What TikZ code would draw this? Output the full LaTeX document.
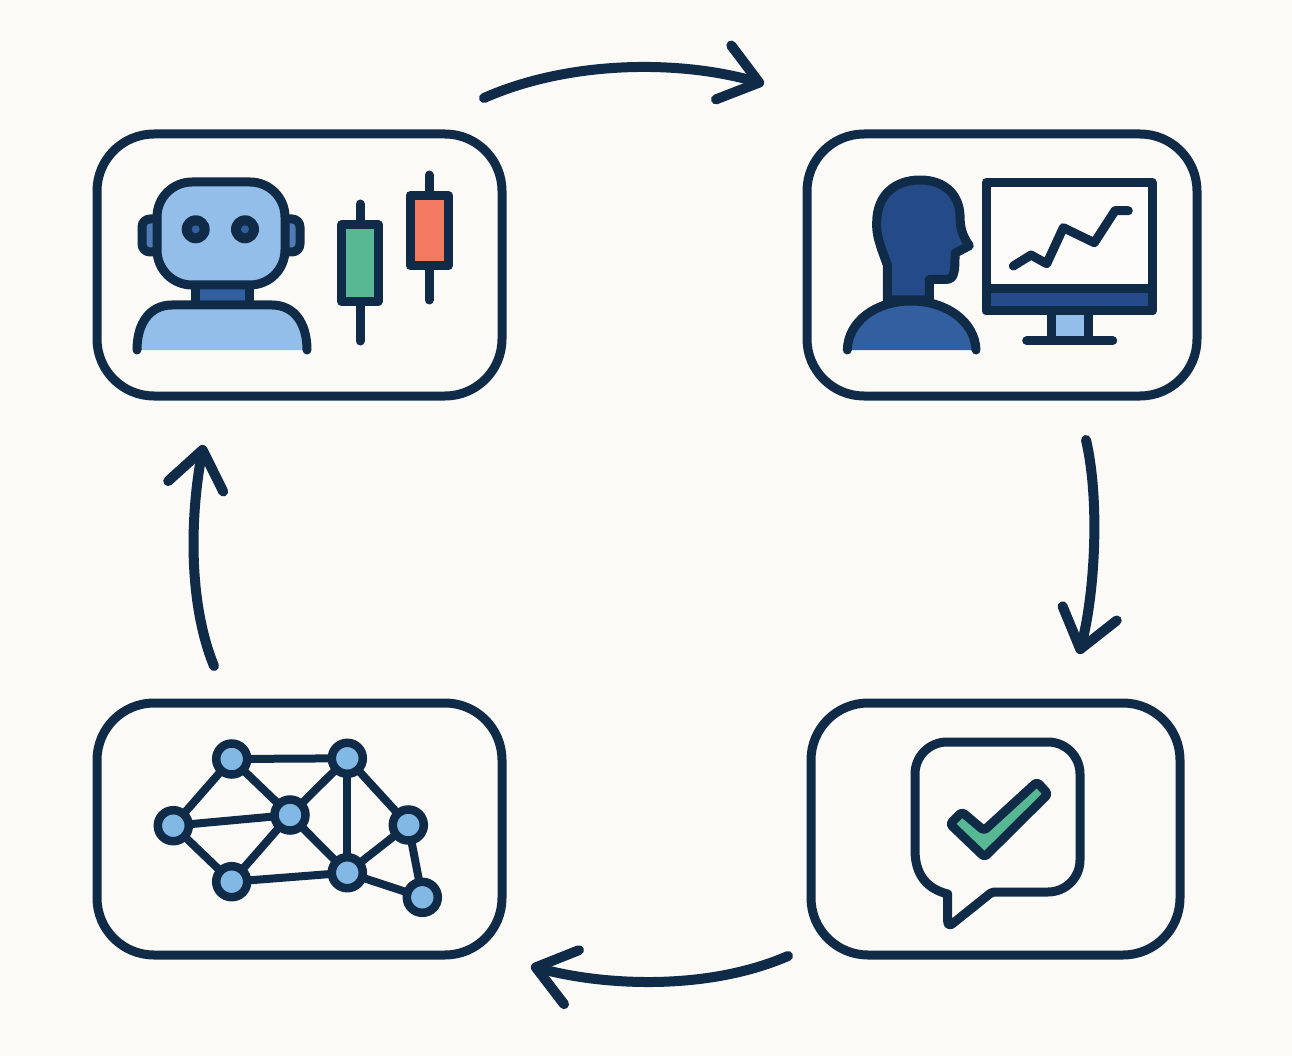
\documentclass[tikz,border=0pt]{standalone}
\usepackage{tikz}
\usetikzlibrary{positioning, calc, arrows.meta}
\definecolor{darknavy}{RGB}{15,43,72}
\definecolor{paperbg}{RGB}{252,250,247}
\definecolor{skyblue}{RGB}{147,190,234}
\definecolor{netblue}{RGB}{130,185,228}
\definecolor{midblue}{RGB}{50,95,160}
\definecolor{deepblue}{RGB}{36,75,135}
\definecolor{candlegreen}{RGB}{88,184,148}
\definecolor{candlered}{RGB}{242,122,96}

\begin{document}
\begin{tikzpicture}[
        x=1pt, y=-1pt,
        box/.style={rectangle, draw=darknavy, line width=9pt, rounded corners=57pt, inner sep=0pt, outer sep=0pt},
        arrow/.style={draw=darknavy, line width=10pt, line cap=round, -{Straight Barb[length=37pt, width=56pt, round]}},
        icon/.style={draw=darknavy, line width=9pt, line join=round, line cap=round},
        netnode/.style={circle, draw=darknavy, fill=netblue, line width=8.5pt, minimum size=31pt, inner sep=0pt, outer sep=0pt},
        netlink/.style={draw=darknavy, line width=8pt},
    ]

    \fill[paperbg] (0,0) rectangle (1292,1056);

    % ===== Four boxes =====
    \node[box, minimum width=405pt, minimum height=262pt] (ROBOT) at (299.5,265) {};
    \node[box, minimum width=390pt, minimum height=262pt, right=305pt of ROBOT] (TRADER) {};
    \node[box, minimum width=405pt, minimum height=252pt, below=307pt of ROBOT] (GRAPH) {};
    \node[box, minimum width=369pt, minimum height=252pt, right=309pt of GRAPH] (CHECK) {};

    % ===== Arrow ends =====
    \coordinate (A1S) at ($(ROBOT.north east)+(-18,-36)$);
    \coordinate (A1E) at ($(TRADER.north west)+(-43,-50)$);
    \coordinate (A2S) at ($(TRADER.south)+(84,44)$);
    \coordinate (A2E) at ($(CHECK.north)+(83.5,-49)$);
    \coordinate (A3S) at ($(CHECK.south west)+(-23,1)$);
    \coordinate (A3E) at ($(GRAPH.south east)+(29,11)$);
    \coordinate (A4S) at ($(GRAPH.north)+(-85.5,-37)$);
    \coordinate (A4E) at ($(ROBOT.south)+(-96,49)$);

    \draw[arrow] (A1S) .. controls (570,60) and (680,60) .. (A1E);
    \draw[arrow] (A2S) .. controls (1100,500) and (1095,593) .. (A2E);
    \draw[arrow] (A3S) .. controls (705,992) and (600,985) .. (A3E);
    \draw[arrow] (A4S) .. controls (187,600) and (191,511) .. (A4E);

    % ===== Robot =====
    \draw[icon, fill=midblue!70!skyblue, rounded corners=8pt] (142,219) rectangle (165,252);
    \draw[icon, fill=midblue!70!skyblue, rounded corners=8pt] (277,219) rectangle (300,252);
    \draw[icon, fill=midblue] (195,280) rectangle (249,306);
    \draw[icon, fill=skyblue, rounded corners=35pt] (157,182) rectangle (285,285);
    \fill[darknavy] (195.7,229.3) circle[radius=14pt];
    \fill[darknavy] (245,229.3) circle[radius=14pt];
    \fill[midblue] (195.7,229.3) circle[radius=4pt];
    \fill[midblue] (245,229.3) circle[radius=4pt];
    \draw[icon, fill=skyblue] (137,350) .. controls (137,323) and (150,305) .. (172,305)
        -- (272,305) .. controls (294,305) and (307,323) .. (307,350);

    % ===== Candles =====
    \draw[icon] (360,204) -- (360,341);
    \draw[icon, fill=candlegreen] (341.7,224.7) rectangle (378,301.7);
    \draw[icon] (429,175) -- (429,300);
    \draw[icon, fill=candlered] (410.3,195.3) rectangle (448.3,266);

    % ===== Person =====
    \draw[icon, fill=deepblue] (887.3,300) -- (887.3,265)
        .. controls (880,245) and (876,235) .. (876.7,222)
        .. controls (877,195) and (895,180) .. (920,180)
        .. controls (945,180) and (959,195) .. (960,215)
        .. controls (960,228) and (962,235) .. (969.3,245.7)
        -- (955,253.3)
        .. controls (955,262) and (955,268) .. (954,272)
        .. controls (953,278) and (950,279.5) .. (945,279.5)
        -- (929.3,279.5) -- (929.3,300) -- cycle;
    \draw[icon, fill=midblue] (847.3,350) .. controls (848,322) and (875,301) .. (911,301)
        .. controls (947,301) and (975,322) .. (976,350);

    % ===== Monitor =====
    \draw[icon, fill=skyblue] (1051.7,311) rectangle (1088,340);
    \draw[icon] (1026.7,340.7) -- (1112.7,340.7);
    \draw[icon, fill=paperbg!60!white] (986,182.3) rectangle (1152,311);
    \draw[icon, fill=deepblue] (986,289) rectangle (1152,311);
    \draw[icon] (1013.3,266) -- (1031,255) -- (1046.7,263.7) -- (1063.3,227.7) -- (1094.3,242.7) -- (1115,210.7) -- (1128.3,210.7);

    % ===== Network =====
    \foreach \nname/\px/\py in {
        N1/231.7/759,
        N2/347.3/758.3,
        N3/290/815,
        N4/173.3/825.7,
        N5/408.3/825,
        N6/231.7/881.7,
        N7/347.3/872.7,
        N8/422.3/897.3%
    } {
        \node[netnode] (\nname) at (\px,\py) {};
    }
    \foreach \na/\nb in {N1/N2, N1/N3, N1/N4, N2/N3, N2/N5, N2/N7, N3/N4, N3/N6, N3/N7, N4/N6, N5/N7, N5/N8, N6/N7, N7/N8} {
        \draw[netlink] (\na) -- (\nb);
    }

    % ===== Speech bubble =====
    \draw[icon, rounded corners=32pt] (1000,742) -- (1080,742) -- (1080,892)
        [rounded corners=2pt] -- (992,892)
        [rounded corners=6pt] -- (947.7,927.5)
        [sharp corners] -- (947.7,894)
        .. controls (928,889) and (915,876) .. (915,850)
        [rounded corners=32pt] -- (915,742) -- cycle;
    \draw[icon, fill=candlegreen, rounded corners=3pt] (950,824) -- (962,812) -- (984,830.5)
        -- (1037,782) -- (1048,794) -- (984.5,857) -- cycle;

\end{tikzpicture}
\end{document}
